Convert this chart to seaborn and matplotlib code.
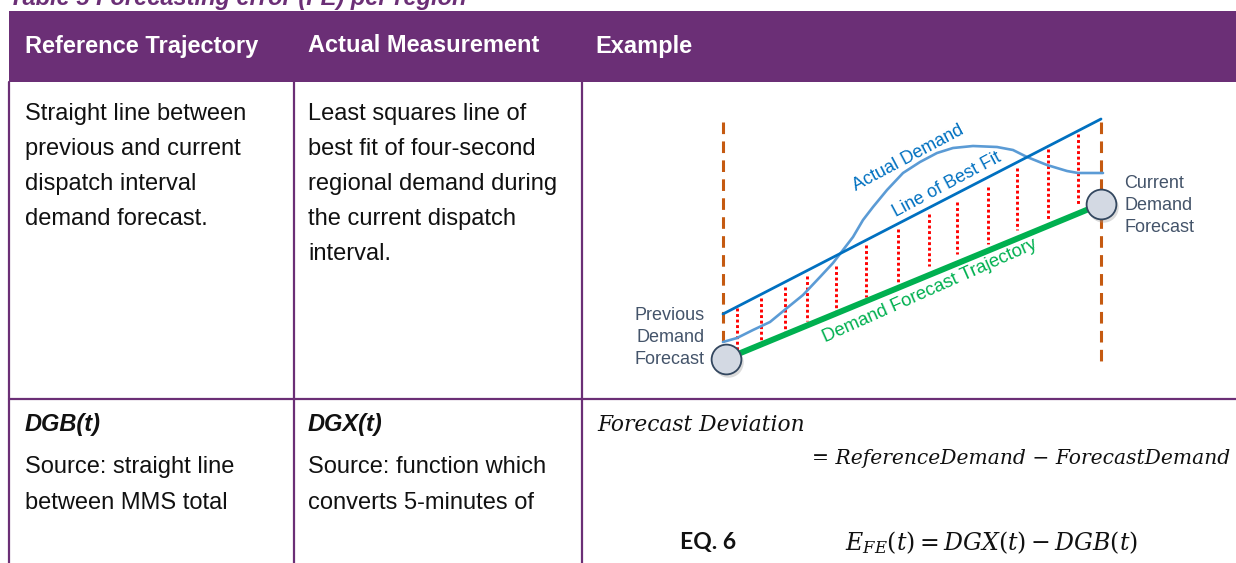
import matplotlib
matplotlib.use("Agg")
import matplotlib.pyplot as plt
import seaborn as sns

# table text
headers = ["Reference Trajectory", "Actual Measurement", "Example"]
col1_text = ["Straight line between", "previous and current", "dispatch interval", "demand forecast."]
col2_text = ["Least squares line of", "best fit of four-second", "regional demand during",
             "the current dispatch", "interval."]
row2_col1 = ["DGB(t)", "Source: straight line", "between MMS total"]
row2_col2 = ["DGX(t)", "Source: function which", "converts 5-minutes of"]

# diagram data (pixel units of the picture)
bound_x = [723, 1101]
bound_top, bound_bottom = 122, 368
fit_x = [723, 1101]
fit_y = [314, 119]
forecast_x = [726, 1101]
forecast_y = [359, 204]
demand_x = [723, 737, 753, 770, 787, 803, 820, 833, 843, 853, 863, 873, 887, 903,
            920, 937, 953, 973, 997, 1013, 1027, 1047, 1067, 1078, 1103]
demand_y = [342, 338, 330, 322, 308, 295, 277, 263, 250, 237, 220, 207, 190, 173,
            162, 153, 148, 146, 147, 150, 157, 165, 171, 173, 173]
gap_x = [737, 761, 785, 807, 836, 866, 898, 929, 957, 988, 1017, 1048, 1078]
gap_top = [308, 298, 287, 276, 266, 245, 229, 214, 202, 187, 168, 149, 134]
gap_bottom = [350, 343, 333, 321, 312, 297, 282, 266, 254, 244, 230, 219, 206]

purple = "#6B2F76"
ink = "#111111"
slate = "#44546A"

sns.set_theme(style="white")
plt.rcParams["font.family"] = ["Liberation Sans", "DejaVu Sans"]
plt.rcParams["mathtext.fontset"] = "dejavuserif"

fig = plt.figure(figsize=(12.36, 5.63), dpi=100)
ax = fig.add_axes([0, 0, 1, 1])
ax.set_xlim(0, 1236)
ax.set_ylim(563, 0)
ax.axis("off")

# caption (cut off at the top, as in the source page)
ax.text(9, 4.5, "Table 5 Forecasting error (FE) per region", color=purple, fontsize=17,
        fontweight="bold", fontstyle="italic", va="baseline")

# header band and grid
ax.add_patch(plt.Rectangle((9, 11), 1236, 71, color=purple, lw=0))
for x in [9, 294, 582]:
    ax.plot([x, x], [82, 563], color=purple, lw=1.6)
ax.plot([9, 1236], [399, 399], color=purple, lw=1.6)

for x, h in zip([25, 308, 595], headers):
    ax.text(x, 46, h, color="white", fontsize=17, fontweight="bold", va="center")

for i, line in enumerate(col1_text):
    ax.text(25, 114 + i * 35, line, color=ink, fontsize=17, va="center")
for i, line in enumerate(col2_text):
    ax.text(308, 114 + i * 35, line, color=ink, fontsize=17, va="center")

for x, cell in [(25, row2_col1), (308, row2_col2)]:
    ax.text(x, 425, cell[0], color=ink, fontsize=17, fontweight="bold",
            fontstyle="italic", va="center")
    ax.text(x, 467, cell[1], color=ink, fontsize=17, va="center")
    ax.text(x, 503, cell[2], color=ink, fontsize=17, va="center")

ax.text(597, 425, "Forecast Deviation", family="DejaVu Serif", fontstyle="italic",
        fontsize=15.7, color=ink, va="center")
ax.text(1230, 458, "= ReferenceDemand \u2212 ForecastDemand", family="DejaVu Serif",
        fontstyle="italic", fontsize=14.6, color=ink, va="center", ha="right")
ax.text(680, 543, "EQ. 6", family="Lato", fontweight="bold", fontsize=16.5, color=ink,
        va="center")
ax.text(845, 543, r"$E_{FE}(t) = DGX(t) - DGB(t)$", fontsize=17, color=ink, va="center")

# diagram
ax.vlines(bound_x, bound_top, bound_bottom, colors="#C55A11", lw=2.2,
          linestyles=(0, (3.8, 2.4)))
ax.vlines(gap_x, gap_top, gap_bottom, colors="#FF0000", lw=2.1,
          linestyles=(0, (1, 0.9)))
sns.lineplot(x=demand_x, y=demand_y, ax=ax, color="#5B9BD5", lw=1.9,
             estimator=None, sort=False)
sns.lineplot(x=fit_x, y=fit_y, ax=ax, color="#0070C0", lw=2.0, estimator=None)
sns.lineplot(x=forecast_x, y=forecast_y, ax=ax, color="#00B050", lw=4.3, estimator=None)
sns.scatterplot(x=[v + 2 for v in forecast_x], y=[v + 3 for v in forecast_y], ax=ax,
                s=480, color="#999999", alpha=0.35, linewidth=0, zorder=4)
sns.scatterplot(x=forecast_x, y=forecast_y, ax=ax, s=460, color="#D3D9E3",
                edgecolor="#33475F", linewidth=1.3, zorder=5)

ax.text(908, 158, "Actual Demand", color="#0070C0", fontsize=13, rotation=28,
        ha="center", va="center", rotation_mode="anchor")
ax.text(947, 185, "Line of Best Fit", color="#0070C0", fontsize=13, rotation=28,
        ha="center", va="center", rotation_mode="anchor")
ax.text(930, 291, "Demand Forecast Trajectory", color="#00B050", fontsize=13.3,
        rotation=24, ha="center", va="center", rotation_mode="anchor")

for i, w in enumerate(["Previous", "Demand", "Forecast"]):
    ax.text(705, 315 + i * 22.5, w, color=slate, fontsize=13, ha="right", va="center")
for i, w in enumerate(["Current", "Demand", "Forecast"]):
    ax.text(1124, 183 + i * 22.5, w, color=slate, fontsize=13, ha="left", va="center")

fig.savefig("out.png", dpi=100)
